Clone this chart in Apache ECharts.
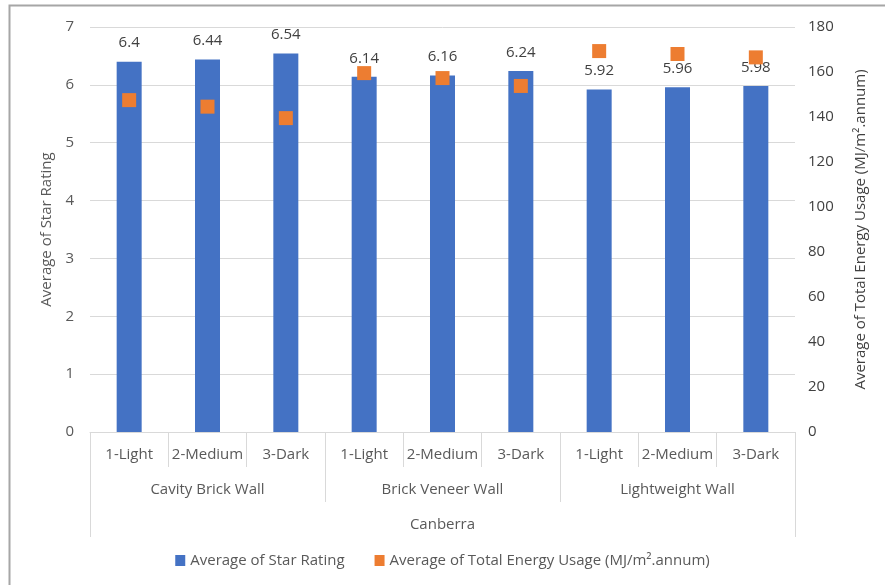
<!DOCTYPE html>
<html>
<head>
<meta charset="utf-8">
<script src="https://cdn.jsdelivr.net/npm/echarts@6/dist/echarts.min.js"></script>
<style>
  html, body { margin: 0; padding: 0; background: #fff; }
  #chart { width: 885px; height: 585px; }
</style>
</head>
<body>
<div id="chart"></div>
<script>
// Wall colour categories, grouped by wall type, all for Canberra
const colours = ['1-Light', '2-Medium', '3-Dark', '1-Light', '2-Medium', '3-Dark', '1-Light', '2-Medium', '3-Dark'];
const wallTypes = ['Cavity Brick Wall', 'Brick Veneer Wall', 'Lightweight Wall'];
const city = ['Canberra'];

// Average star rating per category
const starRating = [6.4, 6.44, 6.54, 6.14, 6.16, 6.24, 5.92, 5.96, 5.98];
// Average total energy usage (MJ/m².annum) per category
const energyUsage = [147.5, 144.6, 139.5, 159.5, 157.3, 153.8, 169.3, 168.0, 166.5];

const FONT = '"Open Sans", "Liberation Sans", sans-serif';
const GREY = '#595959';
const LINE = '#d9d9d9';

const chart = echarts.init(document.getElementById('chart'), null, { renderer: 'canvas' });

// One category axis per level of the x hierarchy; all share the same baseline,
// deeper levels get longer separator ticks and labels pushed further down.
function levelAxis(data, tickLength, labelMargin, showLine) {
  return {
    type: 'category',
    position: 'bottom',
    gridIndex: 0,
    boundaryGap: true,
    data: data,
    axisLine: { show: showLine, lineStyle: { color: LINE, width: 1 } },
    axisTick: { show: true, interval: 0, length: tickLength, lineStyle: { color: LINE, width: 1 } },
    axisLabel: { interval: 0, margin: labelMargin, color: GREY, fontSize: 15, fontFamily: FONT },
    splitLine: { show: false }
  };
}

chart.setOption({
  animation: false,
  textStyle: { fontFamily: FONT },
  grid: { left: 90, right: 90, top: 27, bottom: 153, containLabel: false },
  legend: {
    bottom: 12,
    left: 'center',
    itemWidth: 10,
    itemHeight: 11,
    itemGap: 30,
    icon: 'rect',
    textStyle: { color: GREY, fontSize: 15, fontFamily: FONT },
    data: ['Average of Star Rating', 'Average of Total Energy Usage (MJ/m².annum)']
  },
  xAxis: [
    levelAxis(colours, 35, 15, true),
    levelAxis(wallTypes, 70, 50, false),
    levelAxis(city, 105, 85, false)
  ],
  yAxis: [
    {
      type: 'value',
      min: 0, max: 7, interval: 1,
      name: 'Average of Star Rating',
      nameLocation: 'middle',
      nameGap: 36,
      nameRotate: 90,
      nameTextStyle: { color: GREY, fontSize: 15, fontFamily: FONT },
      axisLine: { show: false },
      axisTick: { show: false },
      axisLabel: { color: GREY, fontSize: 15, margin: 16, fontFamily: FONT },
      splitLine: { show: true, lineStyle: { color: LINE, width: 1 } }
    },
    {
      type: 'value',
      min: 0, max: 180, interval: 20,
      position: 'right',
      name: 'Average of Total Energy Usage (MJ/m².annum)',
      nameLocation: 'middle',
      nameGap: 58,
      nameRotate: 90,
      nameTextStyle: { color: '#404040', fontSize: 15, fontFamily: FONT },
      axisLine: { show: false },
      axisTick: { show: false },
      axisLabel: { color: '#404040', fontSize: 15, margin: 13, fontFamily: FONT },
      splitLine: { show: false }
    }
  ],
  series: [
    {
      name: 'Average of Star Rating',
      type: 'bar',
      xAxisIndex: 0,
      yAxisIndex: 0,
      data: starRating,
      barWidth: 25,
      itemStyle: { color: '#4472C4' },
      label: {
        show: true,
        position: 'top',
        distance: 11,
        color: '#404040',
        fontSize: 15,
        fontFamily: FONT
      }
    },
    {
      name: 'Average of Total Energy Usage (MJ/m².annum)',
      type: 'scatter',
      xAxisIndex: 0,
      yAxisIndex: 1,
      data: energyUsage,
      symbol: 'rect',
      symbolSize: 14,
      itemStyle: { color: '#ED7D31', opacity: 1 },
      z: 3
    }
  ],
  graphic: [
    {
      type: 'polyline',
      silent: true,
      shape: { points: [[9.5, 585], [9.5, 5.5], [885, 5.5]] },
      style: { stroke: '#a6a6a6', lineWidth: 2, fill: null }
    }
  ]
});
</script>
</body>
</html>
